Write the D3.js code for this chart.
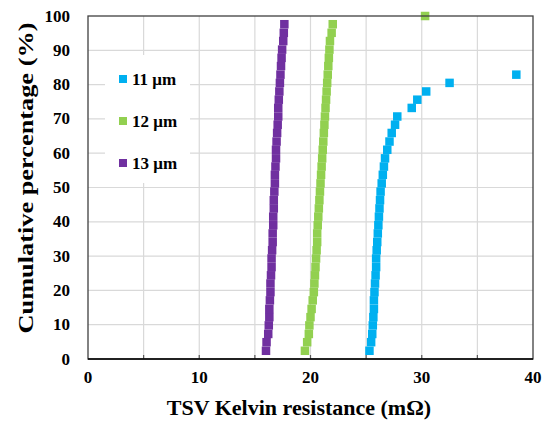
<!DOCTYPE html>
<html>
<head>
<meta charset="utf-8">
<script src="https://cdn.jsdelivr.net/npm/d3@7"></script>
<style>
  body { margin: 0; background: #fff; }
</style>
</head>
<body>
<div id="chart"></div>
<script>
// cumulative percentage steps
var pct = [2.4, 4.9, 7.3, 9.8, 12.2, 14.6, 17.1, 19.5, 22.0, 24.4, 26.8, 29.3, 31.7, 34.1,
    36.6, 39.0, 41.5, 43.9, 46.3, 48.8, 51.2, 53.7, 56.1, 58.5, 61.0, 63.4, 65.9, 68.3,
    70.7, 73.2, 75.6, 78.0, 80.5, 82.9, 85.4, 87.8, 90.2, 92.7, 95.1, 97.6, 100];

// resistance (mOhm) per series
var r11 = [25.3, 25.45, 25.55, 25.6, 25.65, 25.7, 25.7, 25.75, 25.8, 25.85, 25.9, 25.9,
    25.95, 26.0, 26.05, 26.1, 26.15, 26.2, 26.25, 26.3, 26.4, 26.5, 26.6, 26.7, 26.9, 27.1,
    27.3, 27.6, 27.8, 29.1, 29.6, 30.4, 32.5, 38.5];
var r12 = [19.5, 19.7, 19.85, 19.9, 20.0, 20.1, 20.2, 20.3, 20.35, 20.4, 20.45, 20.5, 20.55,
    20.6, 20.6, 20.65, 20.7, 20.75, 20.8, 20.85, 20.9, 20.95, 21.0, 21.05, 21.1, 21.15, 21.2,
    21.25, 21.3, 21.35, 21.4, 21.45, 21.5, 21.55, 21.6, 21.65, 21.7, 21.75, 21.9, 22.0, 30.3];
var r13 = [16.0, 16.05, 16.2, 16.25, 16.3, 16.3, 16.35, 16.4, 16.4, 16.45, 16.5, 16.5, 16.55,
    16.6, 16.6, 16.65, 16.65, 16.7, 16.7, 16.75, 16.8, 16.8, 16.85, 16.9, 16.9, 16.95, 17.0,
    17.05, 17.1, 17.1, 17.15, 17.2, 17.25, 17.3, 17.35, 17.4, 17.45, 17.55, 17.6, 17.65];

var seriesNames = ["11 \u03bcm", "12 \u03bcm", "13 \u03bcm"];
var seriesColors = ["#00b0f0", "#92d050", "#7030a0"];
var seriesValues = [r11, r12, r13];

var xTicks = [0, 10, 20, 30, 40];
var xGrid = [5, 10, 15, 20, 25, 30, 35];
var yTicks = [0, 10, 20, 30, 40, 50, 60, 70, 80, 90, 100];

var width = 542, height = 422;
var margin = { left: 88, right: 9, top: 16, bottom: 63 };

var svg = d3.select("#chart")
    .append("svg")
    .attr("width", width)
    .attr("height", height)
    .attr("font-family", "'Liberation Serif', 'DejaVu Serif', serif")
    .attr("font-weight", "bold");

var x = d3.scaleLinear().domain([0, 40]).range([margin.left, width - margin.right]);
var y = d3.scaleLinear().domain([0, 100]).range([height - margin.bottom, margin.top]);

// grid
svg.append("g")
    .selectAll("line")
    .data(xGrid)
    .enter()
    .append("line")
    .attr("x1", function(d) { return x(d); })
    .attr("x2", function(d) { return x(d); })
    .attr("y1", y(0))
    .attr("y2", y(100))
    .attr("stroke", "#d9d9d9")
    .attr("stroke-width", 1.2);

svg.append("g")
    .selectAll("line")
    .data(yTicks.slice(1, -1))
    .enter()
    .append("line")
    .attr("x1", x(0))
    .attr("x2", x(40))
    .attr("y1", function(d) { return y(d); })
    .attr("y2", function(d) { return y(d); })
    .attr("stroke", "#d9d9d9")
    .attr("stroke-width", 1.2);

// bottom tick marks
svg.append("g")
    .selectAll("line")
    .data(xGrid)
    .enter()
    .append("line")
    .attr("x1", function(d) { return x(d); })
    .attr("x2", function(d) { return x(d); })
    .attr("y1", y(0))
    .attr("y2", y(0) - 4)
    .attr("stroke", "#595959")
    .attr("stroke-width", 1.2);

// legend box (covers grid)
var legend = svg.append("g");
legend.append("rect")
    .attr("x", 105)
    .attr("y", 55)
    .attr("width", 85)
    .attr("height", 128)
    .attr("fill", "#fff");

// points
seriesValues.forEach(function(vals, i) {
    svg.append("g")
        .selectAll("rect")
        .data(vals)
        .enter()
        .append("rect")
        .attr("x", function(d) { return x(d) - 4.25; })
        .attr("y", function(d, j) { return y(pct[j]) - 4.25; })
        .attr("width", 8.5)
        .attr("height", 8.5)
        .attr("fill", seriesColors[i]);
});

var item = legend.selectAll(".item")
    .data(seriesNames)
    .enter()
    .append("g")
    .attr("class", "item")
    .attr("transform", function(d, i) { return "translate(123," + (79 + i * 42) + ")"; });

item.append("rect")
    .attr("x", -4)
    .attr("y", -4)
    .attr("width", 8)
    .attr("height", 8)
    .attr("fill", function(d, i) { return seriesColors[i]; });

item.append("text")
    .attr("x", 9)
    .attr("y", 5.5)
    .attr("font-size", 17)
    .text(function(d) { return d; });

// frame
svg.append("rect")
    .attr("x", x(0))
    .attr("y", y(100))
    .attr("width", x(40) - x(0))
    .attr("height", y(0) - y(100))
    .attr("fill", "none")
    .attr("stroke", "#404040")
    .attr("stroke-width", 1.3);

svg.append("line")
    .attr("x1", x(0))
    .attr("x2", x(40))
    .attr("y1", y(0))
    .attr("y2", y(0))
    .attr("stroke", "#000")
    .attr("stroke-width", 1.5);

// tick labels
svg.append("g")
    .selectAll("text")
    .data(xTicks)
    .enter()
    .append("text")
    .attr("x", function(d) { return x(d); })
    .attr("y", 383)
    .attr("text-anchor", "middle")
    .attr("font-size", 17)
    .text(function(d) { return d; });

svg.append("g")
    .selectAll("text")
    .data(yTicks)
    .enter()
    .append("text")
    .attr("x", 70)
    .attr("y", function(d) { return y(d) + 5.5; })
    .attr("text-anchor", "end")
    .attr("font-size", 17)
    .text(function(d) { return d; });

// axis titles
svg.append("text")
    .attr("x", 299)
    .attr("y", 415)
    .attr("text-anchor", "middle")
    .attr("font-size", 22)
    .text("TSV Kelvin resistance (m\u03a9)");

svg.append("text")
    .attr("transform", "translate(33,178) rotate(-90)")
    .attr("text-anchor", "middle")
    .attr("font-size", 22)
    .attr("textLength", 311)
    .attr("lengthAdjust", "spacingAndGlyphs")
    .text("Cumulative percentage (%)");
</script>
</body>
</html>
